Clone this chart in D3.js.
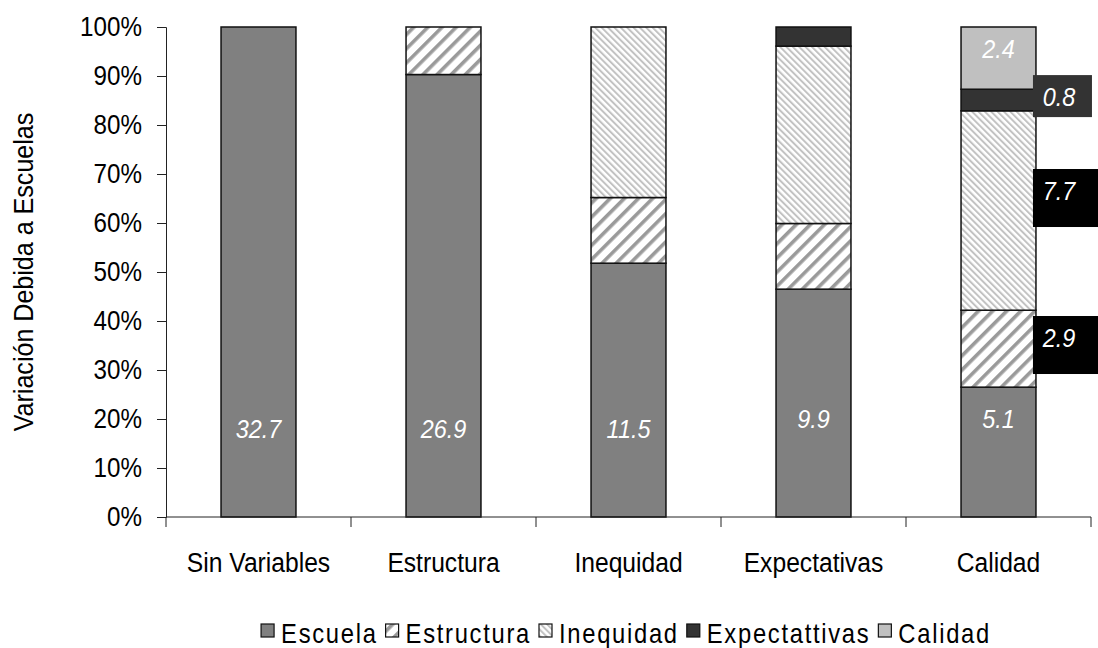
<!DOCTYPE html>
<html>
<head>
<meta charset="utf-8">
<script src="https://cdn.jsdelivr.net/npm/d3@7"></script>
<style>
  body { margin: 0; background: #fff; }
  text { font-family: "Liberation Sans", Arial, sans-serif; }
</style>
</head>
<body>
<svg id="chart" width="1098" height="648"></svg>
<script>
const width = 1098
const height = 648
const narrow = 0.865

// data (share of school variance, %)
const categories = ['Sin Variables', 'Estructura', 'Inequidad', 'Expectativas', 'Calidad']
const seriesNames = ['Escuela', 'Estructura', 'Inequidad', 'Expectativas', 'Calidad']
const legendNames = ['Escuela', 'Estructura', 'Inequidad', 'Expectattivas', 'Calidad']
const escuela = [100, 90.3, 51.8, 46.5, 26.5]
const estructura = [0, 9.7, 13.4, 13.4, 15.7]
const inequidad = [0, 0, 34.8, 36.2, 40.7]
const expectativas = [0, 0, 0, 3.9, 4.4]
const calidad = [0, 0, 0, 0, 12.7]
const yTicks = [0, 10, 20, 30, 40, 50, 60, 70, 80, 90, 100]

// values printed on the bars
const escuelaLabels = ['32.7', '26.9', '11.5', '9.9', '5.1']
const escuelaLabelAt = [18, 18, 18, 20, 20]
const calidadLabels = [
  {serie: 'Estructura', text: '2.9', at: 35.1},
  {serie: 'Inequidad', text: '7.7', at: 65.1},
  {serie: 'Expectativas', text: '0.8', at: 85.9}
]
const calidadTopLabel = '2.4'

const margin = {top: 27, right: 7, bottom: 131, left: 166}

const svg = d3.select('#chart')

// condensed text: Liberation Sans squeezed sideways
function addText(parent, x, y, str, size, opts = {}) {
  const sx = opts.sx || narrow
  const t = parent.append('text')
    .attr('transform', `translate(${x},${y})${opts.rotate ? ' rotate(' + opts.rotate + ')' : ''} scale(${sx},1)`)
    .attr('font-size', size)
    .attr('text-anchor', opts.anchor || 'middle')
    .attr('fill', opts.fill || '#000')
    .text(str)
  if (opts.italic) t.attr('font-style', 'italic')
  if (opts.spacing) t.attr('letter-spacing', opts.spacing)
  return t
}

// patterns for the hatched series
const defs = svg.append('defs')
const p1 = defs.append('pattern').attr('id', 'hatchUp')
  .attr('patternUnits', 'userSpaceOnUse').attr('width', 10).attr('height', 10)
  .attr('patternTransform', 'rotate(45)')
p1.append('rect').attr('width', 10).attr('height', 10).attr('fill', '#fff')
p1.append('rect').attr('width', 3.6).attr('height', 10).attr('fill', '#9a9a9a')

const p2 = defs.append('pattern').attr('id', 'hatchDown')
  .attr('patternUnits', 'userSpaceOnUse').attr('width', 4.5).attr('height', 4.5)
  .attr('patternTransform', 'rotate(-45)')
p2.append('rect').attr('width', 4.5).attr('height', 4.5).attr('fill', '#fff')
p2.append('rect').attr('width', 2).attr('height', 4.5).attr('fill', '#c2c2c2')

const fills = {
  Escuela: '#808080',
  Estructura: 'url(#hatchUp)',
  Inequidad: 'url(#hatchDown)',
  Expectativas: '#333333',
  Calidad: '#c0c0c0'
}

const table = categories.map((c, i) => ({
  cat: c,
  Escuela: escuela[i],
  Estructura: estructura[i],
  Inequidad: inequidad[i],
  Expectativas: expectativas[i],
  Calidad: calidad[i]
}))
const stacked = d3.stack().keys(seriesNames)(table)

const x = d3.scaleBand().domain(categories)
  .range([margin.left, width - margin.right])
  .paddingInner(0.595).paddingOuter(0.2975)
const xAxisScale = d3.scaleBand().domain(categories)
  .range([margin.left, width - margin.right])
const y = d3.scaleLinear().domain([0, 100]).range([height - margin.bottom, margin.top])

// bars
const layers = svg.append('g').selectAll('g').data(stacked).enter().append('g')
  .attr('fill', d => fills[d.key])
layers.selectAll('rect').data(d => d.filter(s => s[1] - s[0] > 0)).enter().append('rect')
  .attr('x', d => x(d.data.cat))
  .attr('y', d => y(d[1]))
  .attr('width', x.bandwidth())
  .attr('height', d => y(d[0]) - y(d[1]))
  .attr('stroke', '#111')
  .attr('stroke-width', 1.5)

// y axis
const yAxis = svg.append('g')
  .attr('transform', `translate(${margin.left},0)`)
  .call(d3.axisLeft(y).tickValues(yTicks).tickFormat(d => d + '%').tickSize(9).tickPadding(15))
yAxis.select('.domain').attr('stroke', '#222')
yAxis.selectAll('.tick line').attr('stroke', '#222')
yAxis.selectAll('text')
  .attr('font-size', 28).attr('fill', '#000')
  .attr('font-family', '"Liberation Sans", Arial, sans-serif')
  .attr('x', -24 / narrow)
  .attr('transform', `scale(${narrow},1)`)

// x axis: ticks sit between categories
const xAxis = svg.append('g').attr('transform', `translate(0,${y(0)})`)
xAxis.append('line')
  .attr('x1', margin.left).attr('x2', width - margin.right)
  .attr('stroke', '#222')
const bounds = categories.map(c => xAxisScale(c)).concat([xAxisScale(categories[categories.length - 1]) + xAxisScale.bandwidth()])
xAxis.selectAll('.tk').data(bounds).enter().append('line')
  .attr('x1', d => d).attr('x2', d => d).attr('y1', 0).attr('y2', 10)
  .attr('stroke', '#222')
categories.forEach(c => {
  addText(xAxis, xAxisScale(c) + xAxisScale.bandwidth() / 2, 55, c, 28, {sx: 0.88})
})

// y title
addText(svg, 33, (y(0) + y(100)) / 2, 'Variación Debida a Escuelas', 28.5, {rotate: -90, sx: 0.88})

// labels inside Escuela
categories.forEach((c, i) => {
  addText(svg, x(c) + x.bandwidth() / 2, y(escuelaLabelAt[i]) + 9, escuelaLabels[i], 26,
    {italic: true, fill: '#fff', sx: 0.9})
})

// Calidad column annotations
const lastCat = categories[categories.length - 1]
const lastRow = stacked.map(s => s[s.length - 1])
const segOf = key => lastRow[seriesNames.indexOf(key)]
const boxX = x(lastCat) + x.bandwidth() - 3

calidadLabels.forEach(d => {
  const small = d.serie === 'Expectativas'
  const h = small ? 42 : 58
  const mid = y(d.at)
  svg.append('rect')
    .attr('x', boxX)
    .attr('y', mid - h / 2)
    .attr('width', small ? 59 : 66)
    .attr('height', h)
    .attr('fill', small ? '#333' : '#000')
  addText(svg, boxX + 26, mid + (small ? 10 : 2), d.text, 26, {italic: true, fill: '#fff', sx: 0.9})
})

const topSeg = segOf('Calidad')
addText(svg, x(lastCat) + x.bandwidth() / 2, y(topSeg[1]) + 31, calidadTopLabel, 26,
  {italic: true, fill: '#fff', sx: 0.9})

// legend
const legend = svg.append('g')
let lx = 0
legendNames.forEach((name, i) => {
  const item = legend.append('g').attr('transform', `translate(${lx},0)`)
  item.append('rect').attr('x', 0).attr('y', -19).attr('width', 13).attr('height', 13)
    .attr('fill', fills[seriesNames[i]]).attr('stroke', '#111').attr('stroke-width', 1.2)
  const t = addText(item, 20, 0, name, 28, {anchor: 'start', sx: 0.85, spacing: 2.0})
  lx += 20 + t.node().getComputedTextLength() * 0.85 + 8
})
legend.attr('transform', `translate(${261 + (730 - lx + 8) / 2},643)`)
</script>
</body>
</html>
